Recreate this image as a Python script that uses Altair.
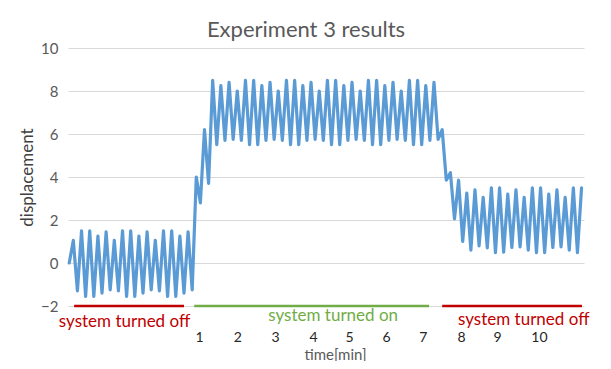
import altair as alt
import pandas as pd

# ---- data (one value per half-swing sample) ----
values_off_before = [0, 1.05, -1.3, 1.5, -1.55, 1.5, -1.55, 1.25, -1.4, 1.45, -1.25,
                     1.05, -1.3, 1.5, -1.55, 1.5, -1.55, 1.25, -1.4, 1.45, -1.25,
                     1.05, -1.3, 1.5, -1.55, 1.5, -1.55, 1.25, -1.4, 1.45, -1.25]
values_rise = [4.0, 2.8, 6.2, 3.7]
values_on = [8.5, 5.5, 8.25, 5.7, 8.4, 5.75, 8.0, 5.7, 8.5, 5.5,
             8.5, 5.5, 8.25, 5.7, 8.4, 5.75, 8.0, 5.7, 8.5, 5.5,
             8.5, 5.5, 8.25, 5.7, 8.4, 5.75, 8.0, 5.7, 8.5, 5.5,
             8.5, 5.5, 8.25, 5.7, 8.4, 5.75, 8.0, 5.7, 8.5, 5.5,
             8.5, 5.5, 8.25, 5.7, 8.4, 5.75, 8.0, 5.7, 8.5, 5.5,
             8.5, 5.5, 8.25, 5.7, 8.4]
values_fall = [5.75, 6.2, 3.85, 4.2, 2.05]
values_off_after = [3.85, 1.0, 3.25, 0.6, 3.4, 0.8, 3.05, 0.7, 3.5, 0.48,
                    3.5, 0.5, 3.2, 0.72, 3.4, 0.75, 3.05, 0.6, 3.5, 0.48,
                    3.5, 0.48, 3.2, 0.72, 3.4, 0.75, 3.05, 0.6, 3.5, 0.48, 3.5]

tick_pos = [31.7, 41.0, 50.2, 59.5, 68.3, 77.3, 86.3, 95.6, 104.4, 114.6]
tick_labels = ["1", "2", "3", "4", "5", "6", "7", "8", "9", "10"]

phase_text = ["system turned off", "system turned on", "system turned off"]
phase_start = [1.2, 30.5, 91.0]
phase_end = [28.0, 87.8, 125.1]
phase_label_x = [13.5, 64.4, 110.9]
phase_label_y = [-2.74, -2.47, -2.65]
phase_state = ["off", "on", "off2"]

values = values_off_before + values_rise + values_on + values_fall + values_off_after
df = pd.DataFrame({"step": list(range(len(values))), "displacement": values})
phases = pd.DataFrame({"start": phase_start, "end": phase_end, "y": [-2] * 3,
                       "lx": phase_label_x, "ly": phase_label_y,
                       "text": phase_text, "state": phase_state})

FONT = "Lato"
label_expr = ("[" + ",".join(f"'{l}'" for l in tick_labels) + "][indexof(["
              + ",".join(str(p) for p in tick_pos) + "], datum.value)]")

xscale = alt.Scale(domain=[-0.3, 125.6], nice=False, zero=False)
yscale = alt.Scale(domain=[-2, 10], nice=False, zero=False)
cscale = alt.Scale(domain=["off", "on", "off2"], range=["#C00000", "#70AD47", "#C00000"])

line = alt.Chart(df).mark_line(color="#5B9BD5", strokeWidth=3.2, strokeJoin="round",
                               strokeCap="round").encode(
    x=alt.X("step:Q", scale=xscale,
            axis=alt.Axis(values=tick_pos, labelExpr=label_expr, grid=False, domain=False,
                          ticks=False, tickSize=0, labelPadding=24, labelFontSize=14,
                          labelColor="#262626", labelFont=FONT, labelOverlap=False,
                          title="time[min]",
                          titleFont=FONT, titleFontSize=15, titleFontWeight="normal",
                          titleColor="#595959", titleX=267, titleY=48,
                          titleBaseline="middle", titleAnchor="start", titleAlign="center")),
    y=alt.Y("displacement:Q", scale=yscale,
            axis=alt.Axis(values=[-2, 0, 2, 4, 6, 8, 10], grid=True, gridColor="#D9D9D9",
                          gridWidth=1, domain=False, ticks=False, tickSize=0,
                          labelPadding=10, labelFontSize=15, labelColor="#595959",
                          labelFont=FONT, title="displacement", titleFont=FONT,
                          titleFontSize=17, titleFontWeight="normal", titleColor="#404040",
                          titleX=-41, titleY=129, titleBaseline="middle", titleAngle=-90,
                          titleAnchor="start", titleAlign="center")),
)

rules = alt.Chart(phases).mark_rule(strokeWidth=2.5).encode(
    x=alt.X("start:Q", scale=xscale),
    x2="end:Q",
    y=alt.Y("y:Q", scale=yscale),
    color=alt.Color("state:N", scale=cscale, legend=None),
)

labels = alt.Chart(phases).mark_text(font=FONT, fontSize=17, baseline="middle",
                                     align="center").encode(
    x=alt.X("lx:Q", scale=xscale),
    y=alt.Y("ly:Q", scale=yscale),
    text="text:N",
    color=alt.Color("state:N", scale=cscale, legend=None),
)

chart = alt.layer(rules, line, labels).properties(
    width=516, height=258,
    title=alt.TitleParams("Experiment 3 results", font=FONT, fontSize=22,
                          fontWeight="normal", color="#595959", anchor="middle",
                          dx=-20, dy=9, offset=8),
    autosize=alt.AutoSizeParams(type="none"),
    padding={"left": 60, "top": 40, "right": 19, "bottom": 55},
).configure_view(stroke=None)

chart.save("out.html", embed_options={"renderer": "svg", "actions": False})
